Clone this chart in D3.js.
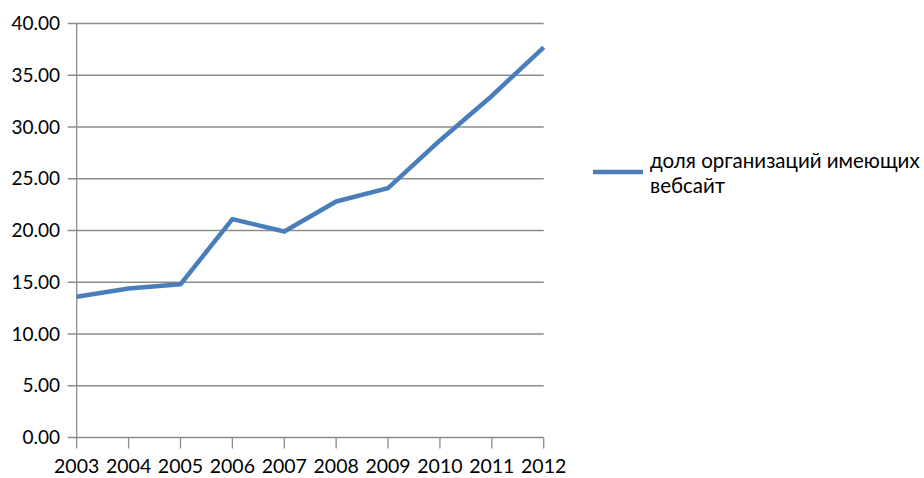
<!DOCTYPE html>
<html><head><meta charset="utf-8">
<script src="https://cdn.jsdelivr.net/npm/d3@7"></script>
<style>
body{margin:0;background:#fff;}
svg text{font-family:Lato,"Open Sans","Noto Sans",sans-serif;fill:#000;}
</style></head>
<body><svg id="c" width="924" height="478"></svg>
<script>
const years = ["2003","2004","2005","2006","2007","2008","2009","2010","2011","2012"];
const values = [13.6, 14.4, 14.8, 21.1, 19.9, 22.8, 24.1, 28.7, 33.0, 37.7];
const yTicks = [0,5,10,15,20,25,30,35,40];
const seriesName = ["доля организаций имеющих","вебсайт"];

const svg = d3.select("#c");
const L = 76.7, R = 543.7, T = 23.5, B = 437.5;
const x = d3.scalePoint().domain(years).range([L, R]);
const y = d3.scaleLinear().domain([0, 40]).range([B, T]);
const grid = "#8c8c8c";

svg.append("g").selectAll("line").data(yTicks).join("line")
  .attr("x1", L - 9).attr("x2", R)
  .attr("y1", d => y(d)).attr("y2", d => y(d))
  .attr("stroke", grid).attr("stroke-width", 1.3);

svg.append("line").attr("x1", L).attr("x2", L).attr("y1", T).attr("y2", B + 11)
  .attr("stroke", grid).attr("stroke-width", 1.3);
svg.append("g").selectAll("line").data(years.slice(1)).join("line")
  .attr("x1", d => x(d)).attr("x2", d => x(d)).attr("y1", B).attr("y2", B + 11)
  .attr("stroke", grid).attr("stroke-width", 1.3);

svg.append("g").selectAll("text").data(yTicks).join("text")
  .attr("x", 60).attr("y", d => y(d) + 6.5).attr("text-anchor", "end")
  .style("font-size", "19px").text(d => d.toFixed(2));
svg.append("g").selectAll("text").data(years).join("text")
  .attr("x", d => x(d)).attr("y", 473).attr("text-anchor", "middle")
  .style("font-size", "19.5px").text(d => d);

const line = d3.line().x((d, i) => x(years[i])).y(d => y(d));
svg.append("path").datum(values).attr("d", line)
  .attr("fill", "none").attr("stroke", "#4A7EBB").attr("stroke-width", 4.5)
  .attr("stroke-linejoin", "round");

svg.append("line").attr("x1", 593).attr("x2", 643).attr("y1", 172).attr("y2", 172)
  .attr("stroke", "#4A7EBB").attr("stroke-width", 4.5);
svg.append("g").selectAll("text").data(seriesName).join("text")
  .attr("x", 650).attr("y", (d, i) => 167.5 + i * 25)
  .style("font-size", "20.5px").text(d => d);
</script></body></html>
